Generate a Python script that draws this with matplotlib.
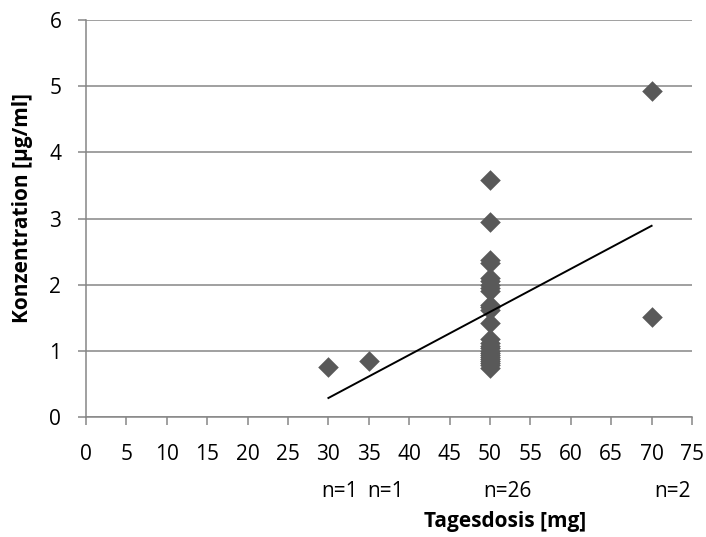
import matplotlib
matplotlib.use("Agg")
import matplotlib.pyplot as plt
import matplotlib.transforms as mtransforms
import numpy as np

plt.rcParams['font.family'] = ['Open Sans', 'DejaVu Sans']

## Dosis je Patient und gemessene Konzentration
dosis = [30, 35] + [50] * 26 + [70, 70]
konz = [0.76, 0.85,
        3.58, 2.95, 2.37, 2.33, 2.10, 2.05, 2.00, 1.95, 1.90, 1.70, 1.66, 1.62, 1.42,
        1.18, 1.12, 1.08, 1.04, 1.00, 0.97, 0.94, 0.91, 0.88, 0.85, 0.82, 0.78, 0.74,
        4.92, 1.51]

## Fallzahlen je Dosisgruppe
gruppen_label = ["n=1", "n=1", "n=26", "n=2"]
gruppen_x = [31.4, 37.1, 52.1, 72.6]

x = np.array(dosis, dtype=float)
y = np.array(konz, dtype=float)

fig = plt.figure(figsize=(7.06, 5.37), dpi=100)
ax = fig.add_axes([86 / 706, 1 - 417 / 537, 606 / 706, 397 / 537])

grau = "#868686"
ax.scatter(x, y, marker="D", s=110, color="#595959", zorder=3, linewidths=0)

## lineare Trendlinie
k, d = np.polyfit(x, y, 1)
xl = np.array([x.min(), x.max()])
ax.plot(xl, k * xl + d, color="black", lw=1.4, zorder=4)

ax.set_xlim(0, 75)
ax.set_ylim(0, 6)
ax.set_xticks(np.arange(0, 76, 5))
ax.set_yticks(np.arange(0, 7, 1))
ax.yaxis.grid(True, color=grau, lw=1.1)
ax.set_axisbelow(True)

for s in ["top", "right"]:
    ax.spines[s].set_visible(False)
for s in ["left", "bottom"]:
    ax.spines[s].set_color(grau)
    ax.spines[s].set_linewidth(1.1)

ax.tick_params(axis="both", colors=grau, labelcolor="black", labelsize=15,
               direction="out", length=5.8, width=1.1)
ax.tick_params(axis="x", pad=13.5)
ax.tick_params(axis="y", pad=12)

fig.text(23 / 706, 1 - 208 / 537, "Konzentration [µg/ml]", rotation=90,
         ha="center", va="center", fontsize=15, fontweight="bold")

trans = mtransforms.blended_transform_factory(ax.transData, fig.transFigure)
for lbl, gx in zip(gruppen_label, gruppen_x):
    ax.text(gx, 1 - 497 / 537, lbl, transform=trans, ha="center", va="baseline", fontsize=15)
ax.text(51.9, 1 - 527 / 537, "Tagesdosis [mg]", transform=trans, ha="center", va="baseline",
        fontsize=15, fontweight="bold")

fig.savefig("out.png", dpi=100)
